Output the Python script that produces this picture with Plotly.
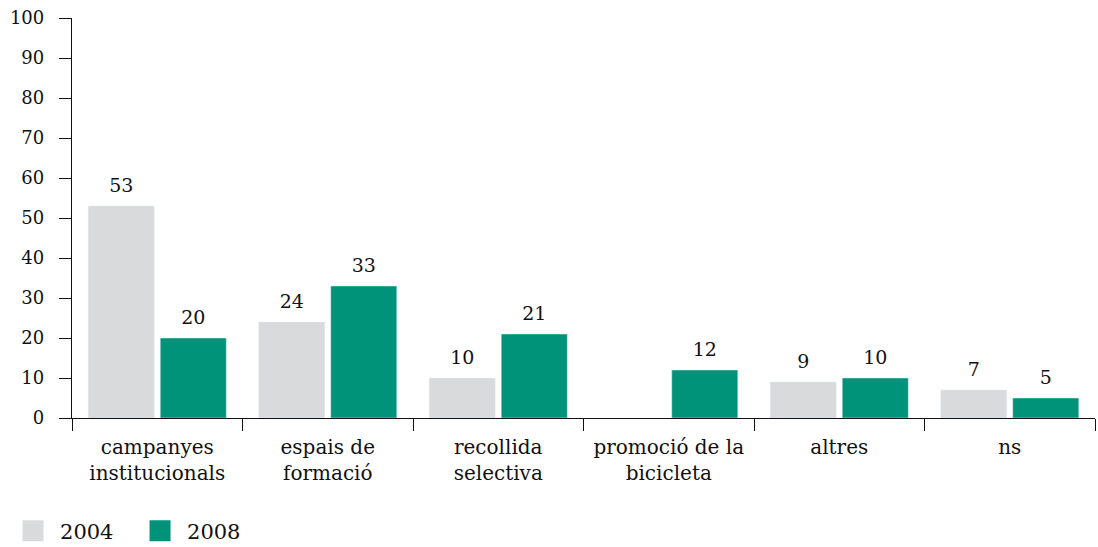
import plotly.graph_objects as go

categories = ["campanyes<br>institucionals", "espais de<br>formació", "recollida<br>selectiva",
              "promoció de la<br>bicicleta", "altres", "ns"]
values_2004 = [53, 24, 10, None, 9, 7]
values_2008 = [20, 33, 21, 12, 10, 5]
y_ticks = [0, 10, 20, 30, 40, 50, 60, 70, 80, 90, 100]

FONT = "DejaVu Serif"
GRAY = "#d9dadc"
GREEN = "#00937a"
INK = "#111111"

fig = go.Figure()
for name, vals, col in [("2004", values_2004, GRAY), ("2008", values_2008, GREEN)]:
    fig.add_trace(go.Bar(
        x=categories, y=vals, name=name, marker_color=col, showlegend=False,
        offsetgroup=name,
    ))
# value labels above the bars
for name, vals in [("2004", values_2004), ("2008", values_2008)]:
    fig.add_trace(go.Scatter(
        x=categories, y=vals, mode="markers+text", showlegend=False,
        offsetgroup=name, hoverinfo="skip",
        marker=dict(size=14, opacity=0, color="white"),
        text=[("" if v is None else str(v)) for v in vals],
        textposition="top center", textfont=dict(family=FONT, size=19, color=INK),
        cliponaxis=False,
    ))
# legend entries (large square swatches)
for name, col in [("2004", GRAY), ("2008", GREEN)]:
    fig.add_trace(go.Scatter(
        x=[None], y=[None], name=name, mode="markers",
        marker=dict(symbol="square", size=16, color=col, line=dict(width=5, color=col)),
    ))

fig.update_layout(
    width=1098, height=547,
    margin=dict(l=72, r=3, t=18, b=129),
    paper_bgcolor="white", plot_bgcolor="white",
    barmode="group", bargap=0.155, bargroupgap=0.083,
    scattermode="group", scattergap=0.155,
    font=dict(family=FONT, size=19, color=INK),
    showlegend=True,
    legend=dict(orientation="h", xref="container", yref="container",
                x=0.0055, xanchor="left", y=0.029, yanchor="middle",
                font=dict(family=FONT, size=21, color=INK), itemwidth=44,
                entrywidth=68, traceorder="normal", tracegroupgap=0),
)
fig.update_xaxes(
    automargin=False,
    showline=True, linecolor=INK, linewidth=1.3,
    ticks="outside", tickson="boundaries", ticklen=12, tickcolor=INK, tickwidth=1.3,
    tickfont=dict(family=FONT, size=20, color=INK), ticklabelstandoff=11,
    showgrid=False, zeroline=False,
)
fig.update_yaxes(
    automargin=False,
    range=[0, 100], tickvals=y_ticks, showline=True, linecolor=INK, linewidth=1.3,
    ticks="outside", ticklen=12, tickcolor=INK, tickwidth=1.3,
    tickfont=dict(family=FONT, size=18, color=INK), ticklabelstandoff=11,
    showgrid=False, zeroline=False,
)

fig.write_html("out.html", config={"displayModeBar": False},
               post_script="document.body.style.margin='0';")
